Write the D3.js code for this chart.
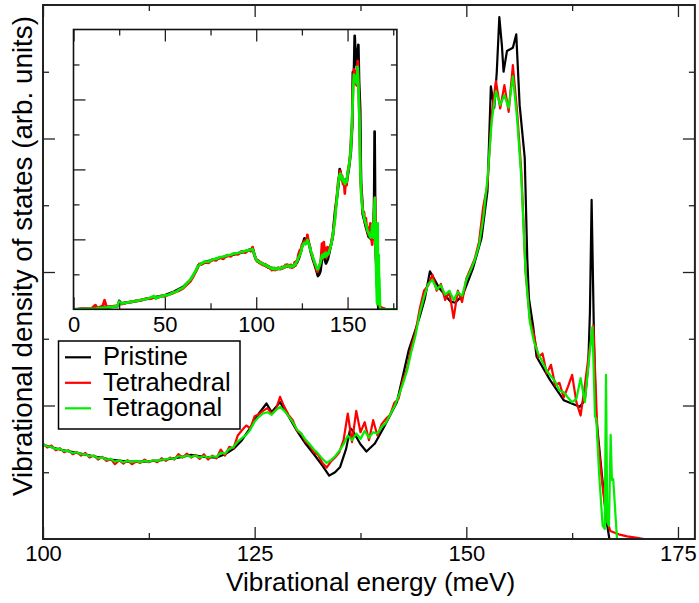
<!DOCTYPE html>
<html>
<head>
<meta charset="utf-8">
<script src="https://cdn.jsdelivr.net/npm/d3@7"></script>
<style>
  html, body { margin: 0; padding: 0; background: #fff; }
  svg { display: block; }
  text { font-family: "Liberation Sans", Arial, Helvetica, sans-serif; fill: #000; }
</style>
</head>
<body>
<svg id="chart" width="699" height="603"></svg>
<script>
// ---- Vibrational density of states: energies (meV) and values (arb. units) ----

// Pristine
const pristineE = [0,5,10,15,20,24.5,25,26,30,35,40,45,50,55,60,64,67,68.5,72,76,80,85,90,95,98,99,
  100,102,104,106,108,110,112,114,116,117.5,119,120.5,121.5,122.5,123.5,124.5,125.5,126.4,127,128,
  129,130,131,132,133,133.8,134.5,135.1,135.8,136.3,136.6,137.5,138.2,139.2,140.2,141.8,143.2,144.5,
  145.1,145.7,146.8,148.1,148.7,149.6,150.8,151.8,152.5,152.9,153.3,153.6,153.9,154.2,154.4,154.8,
  155.5,155.9,156.3,156.9,157.2,157.4,157.9,158.3,159.9,161.5,163.4,164.0,164.4,164.6,164.8,165.1,
  165.3,166.0,166.6,166.9,177];
const pristineV = [0,0.01,0.02,0.04,0.07,0.1,0.24,0.17,0.2,0.24,0.3,0.35,0.4,0.5,0.64,0.84,1.1,1.27,1.35,1.41,1.47,1.53,1.6,1.67,1.74,1.56,
  1.41,1.34,1.29,1.24,1.19,1.16,1.16,1.18,1.22,1.26,1.23,1.22,1.27,1.35,1.48,1.67,1.88,2.03,1.9,2.05,
  1.84,1.62,1.43,1.27,1.1,0.95,1.0,1.08,1.35,1.66,1.62,1.42,1.31,1.43,1.66,2.05,2.83,3.33,
  3.6,4.01,3.76,3.56,3.54,3.66,4.06,4.51,5.21,6.78,6.46,7.0,7.82,7.4,7.0,7.31,
  7.36,7.56,6.5,5.71,4.2,3.6,3.18,2.73,2.38,2.08,1.98,2.08,2.6,3.39,5.08,2.88,
  1.89,0.98,0.24,0,0];

// Tetrahedral
const tetrahedralE = [0,2,4,6,8,10,12,13,14,16,17,18,20,22,24,25,26,28,30,32,34,36,38,40,42,44,46,48,50,
  52,54,56,58,60,62,64,66,68,69,70,72,74,76,78,80,82,84,86,88,90,92,94,96,97,98,99,
  100,100.5,101,101.5,102,102.5,103,103.5,104,104.5,105,105.5,106,106.5,107,107.5,108,108.5,109,109.5,
  110,110.5,111,111.5,112,112.5,113,113.5,114,114.5,115,115.5,116,116.5,117,117.5,118,118.5,119,119.5,
  120,120.5,121,121.5,122,122.5,123,123.5,124,124.5,125,125.5,126,126.5,127,127.5,128,128.5,129,129.5,
  130,130.5,131,131.5,132,132.5,133,133.5,134,134.5,135,135.5,136,136.5,137,137.5,138,138.5,139,139.5,
  140,140.5,141,141.5,142,142.5,143,143.5,144,144.5,145,145.5,146,146.5,147,147.5,148,148.5,149,149.5,
  150,150.5,151,151.5,152,152.5,153,153.5,154,154.5,155,155.5,156,156.5,157,157.5,158,158.5,159,159.5,
  160,160.5,161,161.5,162,162.5,163,163.5,164,164.5,165,165.5,166,166.5,167,168,169,170,171,177];
const tetrahedralV = [0,0,0.01,0.01,0.02,0.03,0.12,0.04,0.05,0.1,0.26,0.08,0.07,0.09,0.1,0.2,0.15,0.17,0.2,0.21,0.24,0.25,0.27,0.31,0.3,0.34,0.33,0.38,0.37,
  0.42,0.45,0.5,0.54,0.6,0.7,0.8,0.98,1.2,1.3,1.28,1.34,1.33,1.42,1.4,1.48,1.44,1.55,1.51,1.6,1.57,1.66,1.62,1.7,1.66,1.78,1.55,
  1.43,1.37,1.40,1.33,1.36,1.30,1.33,1.27,1.30,1.25,1.29,1.22,1.25,1.19,1.23,1.17,1.20,1.12,1.18,1.13,
  1.18,1.12,1.16,1.14,1.19,1.15,1.18,1.15,1.21,1.17,1.22,1.19,1.27,1.22,1.28,1.22,1.26,1.20,1.27,1.19,
  1.25,1.21,1.34,1.25,1.38,1.36,1.55,1.63,1.70,1.66,1.84,1.87,1.92,1.96,1.88,1.94,2.13,1.98,1.86,1.78,
  1.62,1.58,1.46,1.40,1.30,1.26,1.14,1.07,1.16,1.22,1.30,1.48,1.88,1.45,1.92,1.60,1.75,1.48,1.78,1.55,
  1.72,1.80,1.86,2.04,2.10,2.38,2.55,2.88,3.10,3.45,3.72,3.80,3.96,3.72,3.82,3.58,3.70,3.31,3.72,3.55,
  3.90,4.05,4.20,4.45,4.98,5.31,6.36,6.86,6.45,6.80,6.40,7.10,6.40,5.50,4.00,3.30,3.05,2.72,2.78,2.48,
  2.61,2.30,2.34,2.12,2.28,2.46,2.05,1.85,2.30,2.80,3.20,1.55,0.90,0.35,0.12,0.07,0.04,0.02,0,0];

// Tetragonal
const tetragonalE = [0,4,8,12,16,20,24,25,26,28,30,32,34,36,38,40,42,44,45,46,48,50,52,54,56,58,60,62,64,66,68,
  70,72,74,76,78,80,82,84,86,88,90,92,94,96,98,99,
  100,100.5,101,101.5,102,102.5,103,103.5,104,104.5,105,105.5,106,106.5,107,107.5,108,108.5,109,109.5,
  110,110.5,111,111.5,112,112.5,113,113.5,114,114.5,115,115.5,116,116.5,117,117.5,118,118.5,119,119.5,
  120,120.5,121,121.5,122,122.5,123,123.5,124,124.5,125,125.5,126,126.5,127,127.5,128,128.5,129,129.5,
  130,130.5,131,131.5,132,132.5,133,133.5,134,134.5,135,135.5,136,136.5,137,137.5,138,138.5,139,139.5,
  140,140.5,141,141.5,142,142.5,143,143.5,144,144.5,145,145.5,146,146.5,147,147.5,148,148.5,149,149.5,
  150,150.5,151,151.5,152,152.5,153,153.5,154,154.5,155,155.5,156,156.5,157,157.5,158,158.5,159,159.5,
  160,160.5,161,161.5,162,162.5,163,163.5,164,164.5,164.9,165.2,165.35,165.7,166.1,166.35,166.5,166.65,
  166.85,167.05,167.2,167.35,167.8,177];
const tetragonalV = [0,0,0.01,0.02,0.04,0.06,0.09,0.22,0.16,0.18,0.2,0.22,0.23,0.26,0.28,0.3,0.33,0.38,0.3,0.35,0.37,0.4,0.41,0.47,0.5,0.57,0.62,0.74,0.85,1.02,1.22,
  1.31,1.37,1.36,1.43,1.44,1.49,1.5,1.54,1.56,1.6,1.61,1.64,1.67,1.69,1.72,1.56,
  1.42,1.39,1.38,1.35,1.35,1.32,1.32,1.29,1.30,1.27,1.27,1.24,1.25,1.21,1.22,1.19,1.20,1.16,1.18,1.15,
  1.17,1.15,1.17,1.15,1.17,1.16,1.18,1.17,1.19,1.19,1.21,1.20,1.24,1.23,1.25,1.23,1.25,1.22,1.24,1.22,
  1.24,1.23,1.29,1.28,1.35,1.38,1.46,1.51,1.56,1.64,1.76,1.83,1.88,1.90,1.86,1.93,1.98,1.92,1.84,1.75,
  1.64,1.58,1.49,1.42,1.34,1.28,1.20,1.14,1.18,1.24,1.32,1.42,1.55,1.48,1.58,1.50,1.62,1.52,1.60,1.58,
  1.68,1.74,1.86,1.98,2.14,2.32,2.52,2.80,3.05,3.38,3.62,3.82,3.88,3.74,3.80,3.66,3.72,3.58,3.70,3.64,
  3.88,4.02,4.18,4.40,4.80,5.40,6.26,6.71,6.50,6.65,6.46,6.93,6.30,5.40,4.00,3.25,2.95,2.78,2.65,2.52,
  2.44,2.36,2.22,2.20,2.12,2.05,2.10,2.41,2.05,2.70,3.18,1.83,1.81,0.95,0.2,0.15,2.46,0.25,
  0.2,1.56,0.88,0.9,0,0];

const seriesNames = ["Pristine", "Tetrahedral", "Tetragonal"];
const seriesColors = ["#000000", "#ff0000", "#00ee00"];

// Axis ticks
const mainXMajor = [100, 125, 150, 175];
const mainXMinor = [112.5, 137.5, 162.5];
const mainYMajor = [2, 4, 6];
const mainYMinor = [1, 3, 5, 7];
const insetXMajor = [0, 50, 100, 150];
const insetXMinor = [25, 75, 125, 175];
const insetYMajor = [2, 4, 6];
const insetYMinor = [1, 3, 5, 7];

const xTitle = "Vibrational energy (meV)";
const yTitle = "Vibrational density of states (arb. units)";

// ---- drawing ----
const svg = d3.select("#chart");

const series = [
  {E: pristineE, V: pristineV},
  {E: tetrahedralE, V: tetrahedralV},
  {E: tetragonalE, V: tetragonalV}
].map((s, i) => ({
  name: seriesNames[i],
  color: seriesColors[i],
  pts: s.E.map((e, j) => [e, s.V[j]])
}));

function panel(g, opt) {
  const x = d3.scaleLinear().domain(opt.xDomain).range([opt.left, opt.right]);
  const y = d3.scaleLinear().domain([0, 8]).range([opt.bottom, opt.top]);

  g.append("rect")
    .attr("x", opt.left).attr("y", opt.top)
    .attr("width", opt.right - opt.left).attr("height", opt.bottom - opt.top)
    .attr("fill", "#fff");

  const clipId = opt.id + "-clip";
  g.append("clipPath").attr("id", clipId)
    .append("rect")
    .attr("x", opt.left).attr("y", opt.top - 2)
    .attr("width", opt.right - opt.left).attr("height", opt.bottom - opt.top + 2);

  const line = d3.line().x(d => x(d[0])).y(d => y(d[1]));
  g.append("g").attr("clip-path", `url(#${clipId})`)
    .selectAll("path").data(series).join("path")
    .attr("d", d => line(d.pts))
    .attr("fill", "none")
    .attr("stroke", d => d.color)
    .attr("stroke-width", opt.lw)
    .attr("stroke-linejoin", "round");

  const tickStyle = sel => {
    sel.select(".domain").remove();
    sel.selectAll(".tick line").attr("stroke", "#222").attr("stroke-width", 1.3);
    sel.selectAll(".tick text").attr("font-size", opt.fs).attr("fill", "#000");
  };
  const none = () => "";

  // bottom & top
  g.append("g").attr("transform", `translate(0,${opt.bottom})`)
    .call(d3.axisBottom(x).tickValues(opt.xMajor).tickSizeInner(-12).tickSizeOuter(0)
      .tickPadding(opt.pad).tickFormat(d3.format("d")))
    .call(tickStyle);
  g.append("g").attr("transform", `translate(0,${opt.bottom})`)
    .call(d3.axisBottom(x).tickValues(opt.xMinor).tickSizeInner(-6).tickSizeOuter(0).tickFormat(none))
    .call(tickStyle);
  g.append("g").attr("transform", `translate(0,${opt.top})`)
    .call(d3.axisTop(x).tickValues(opt.xMajor).tickSizeInner(-12).tickSizeOuter(0).tickFormat(none))
    .call(tickStyle);
  g.append("g").attr("transform", `translate(0,${opt.top})`)
    .call(d3.axisTop(x).tickValues(opt.xMinor).tickSizeInner(-6).tickSizeOuter(0).tickFormat(none))
    .call(tickStyle);
  // left & right
  g.append("g").attr("transform", `translate(${opt.left},0)`)
    .call(d3.axisLeft(y).tickValues(opt.yMajor).tickSizeInner(-12).tickSizeOuter(0).tickFormat(none))
    .call(tickStyle);
  g.append("g").attr("transform", `translate(${opt.left},0)`)
    .call(d3.axisLeft(y).tickValues(opt.yMinor).tickSizeInner(-6).tickSizeOuter(0).tickFormat(none))
    .call(tickStyle);
  g.append("g").attr("transform", `translate(${opt.right},0)`)
    .call(d3.axisRight(y).tickValues(opt.yMajor).tickSizeInner(-12).tickSizeOuter(0).tickFormat(none))
    .call(tickStyle);
  g.append("g").attr("transform", `translate(${opt.right},0)`)
    .call(d3.axisRight(y).tickValues(opt.yMinor).tickSizeInner(-6).tickSizeOuter(0).tickFormat(none))
    .call(tickStyle);

  g.append("rect")
    .attr("x", opt.left).attr("y", opt.top)
    .attr("width", opt.right - opt.left).attr("height", opt.bottom - opt.top)
    .attr("fill", "none").attr("stroke", opt.frame).attr("stroke-width", opt.fw);
}

// main panel
panel(svg.append("g"), {
  id: "main", left: 43, right: 694.9, top: 5, bottom: 539,
  xDomain: [100, 177], xMajor: mainXMajor, xMinor: mainXMinor,
  yMajor: mainYMajor, yMinor: mainYMinor,
  lw: 2.2, fs: 22, pad: 6.5, frame: "#222", fw: 2
});

// inset panel: full energy range
panel(svg.append("g"), {
  id: "inset", left: 73.5, right: 396.9, top: 29.5, bottom: 309.3,
  xDomain: [0, 177], xMajor: insetXMajor, xMinor: insetXMinor,
  yMajor: insetYMajor, yMinor: insetYMinor,
  lw: 2.7, fs: 22, pad: 7.5, frame: "#111", fw: 1.6
});

// legend
const legend = svg.append("g");
legend.append("rect")
  .attr("x", 58.5).attr("y", 341).attr("width", 181.5).attr("height", 88)
  .attr("fill", "#fff").attr("stroke", "#000").attr("stroke-width", 1.5);
const rows = legend.selectAll("g.row").data(series).join("g")
  .attr("class", "row")
  .attr("transform", (d, i) => `translate(0,${357.3 + i * 25.5})`);
rows.append("line")
  .attr("x1", 65).attr("x2", 91).attr("y1", 0).attr("y2", 0)
  .attr("stroke", d => d.color).attr("stroke-width", 2.2);
rows.append("text")
  .attr("x", 103).attr("y", 8)
  .attr("font-size", 25.5)
  .text(d => d.name);

// axis titles
svg.append("text")
  .attr("x", 226).attr("y", 590.5)
  .attr("font-size", 26.2)
  .text(xTitle);
svg.append("text")
  .attr("transform", "translate(32,496) rotate(-90)")
  .attr("font-size", 27.8)
  .text(yTitle);
</script>
</body>
</html>
